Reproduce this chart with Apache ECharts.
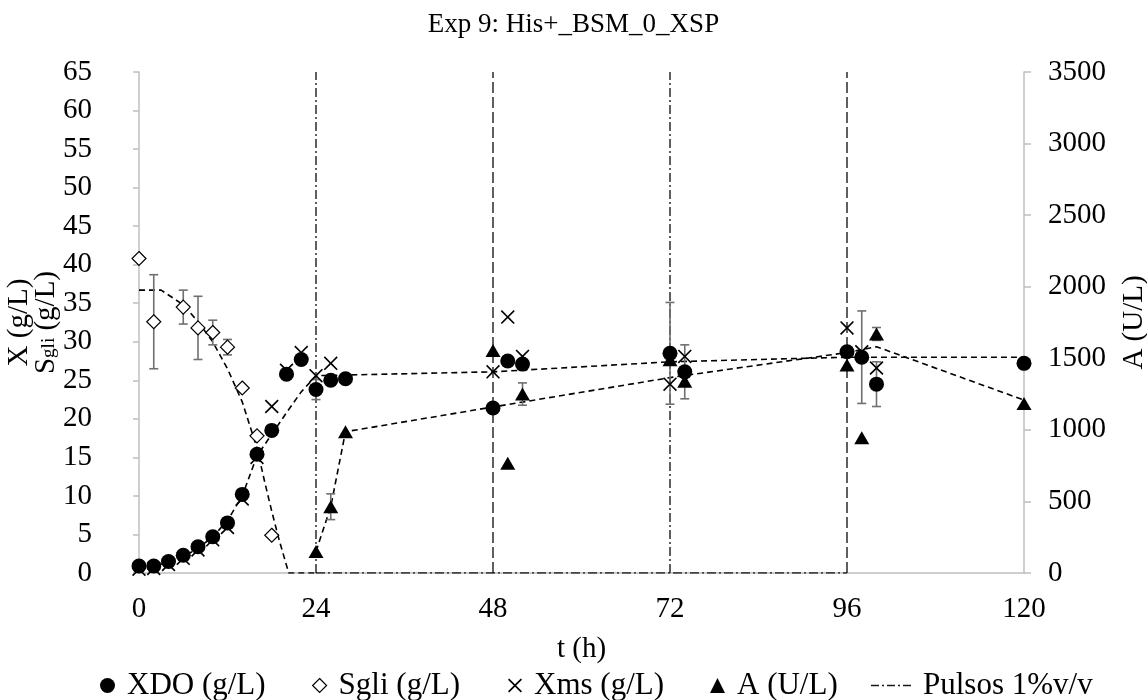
<!DOCTYPE html>
<html>
<head>
<meta charset="utf-8">
<script src="https://cdn.jsdelivr.net/npm/echarts@6/dist/echarts.min.js"></script>
<style>
  html, body { margin: 0; padding: 0; background: #ffffff; }
  #chart { width: 1147px; height: 700px; }
</style>
</head>
<body>
<div id="chart"></div>
<script>
// ---- measured data ----
// Biomass, dry weight (g/L)
const tXDO   = [0, 2, 4, 6, 8, 10, 12, 14, 16, 18, 20, 22, 24, 26, 28, 48, 50, 52, 72, 74, 96, 98, 100, 120];
const XDO    = [0.9, 0.9, 1.5, 2.3, 3.4, 4.7, 6.5, 10.2, 15.4, 18.5, 25.8, 27.7, 23.8, 25.0, 25.2, 21.4, 27.5, 27.1, 28.5, 26.1, 28.7, 28.0, 24.5, 27.2];
const XDOerr = [0, 0, 0, 0, 0, 0, 0, 0, 0, 0, 0, 0, 1.3, 0, 0, 0, 0, 0, 6.6, 3.5, 0, 6.0, 2.9, 0];

// Glycerol (g/L)
const tSgli   = [0, 2, 6, 8, 10, 12, 14, 16, 18];
const Sgli    = [40.8, 32.6, 34.5, 31.8, 31.2, 29.3, 24.0, 17.8, 4.9];
const SgliErr = [0, 6.1, 2.2, 4.1, 1.6, 1.0, 0, 0, 0];

// Biomass estimated online (g/L)
const tXms = [0, 2, 4, 6, 8, 10, 12, 14, 16, 18, 20, 22, 24, 26, 48, 50, 52, 72, 74, 96, 98, 100];
const Xms  = [0.5, 0.6, 1.1, 1.9, 3.0, 4.3, 5.9, 9.6, 15.0, 21.6, 26.3, 28.6, 25.6, 27.2, 26.1, 33.2, 28.1, 24.5, 28.1, 31.8, 28.7, 26.6];

// Enzyme activity (U/L)
const tA   = [24, 26, 28, 48, 50, 52, 72, 74, 96, 98, 100, 120];
const A    = [150, 463, 987, 1555, 766, 1250, 1490, 1340, 1453, 945, 1670, 1185];
const AErr = [0, 90, 0, 0, 0, 78, 0, 0, 0, 0, 45, 0];

// Model curves
const tXModel = [0, 2, 4, 6, 8, 10, 12, 14, 16, 18, 20, 22, 24, 48, 72, 96, 120];
const XModel  = [0.6, 0.9, 1.4, 2.1, 3.2, 4.7, 6.8, 10.0, 15.2, 18.0, 20.8, 23.5, 25.6, 26.1, 27.4, 28.0, 28.0];
const tSModel = [0, 3, 6, 8, 10, 12, 14, 16, 17, 18, 19, 20.3, 24];
const SModel  = [36.7, 36.7, 34.8, 32.6, 30.0, 26.5, 22.2, 16.2, 12.0, 8.0, 4.3, 0, 0];
const tAModel = [24, 26, 28, 48, 72, 96, 100, 120];
const AModel  = [150, 463, 987, 1160, 1365, 1540, 1581, 1208];

// Feeding pulses (h)
const tPulse = [24, 48, 72, 96];

// Axes
const xTicks = [0, 24, 48, 72, 96, 120];
const yLeftMax = 65, yLeftStep = 5;
const yRightMax = 3500, yRightStep = 500;

// ---- drawing ----
const FONT = '"Liberation Serif", "Times New Roman", serif';
const AXIS_GRAY = '#bfbfbf';
const INK = '#1a1a1a';
const zip = (ts, vs) => ts.map((t, i) => [t, vs[i]]);

function errorBars(ts, vs, es, yAxisIndex) {
  const data = [];
  ts.forEach((t, i) => { if (es[i] > 0) data.push([t, vs[i] - es[i], vs[i] + es[i]]); });
  return {
    type: 'custom', yAxisIndex: yAxisIndex, silent: true, z: 3,
    data: data,
    encode: { x: 0, y: [1, 2] },
    renderItem: function (params, api) {
      const lo = api.coord([api.value(0), api.value(1)]);
      const hi = api.coord([api.value(0), api.value(2)]);
      const w = 4.5;
      const style = { stroke: '#707070', lineWidth: 1.6, fill: null };
      return {
        type: 'group',
        children: [
          { type: 'line', shape: { x1: lo[0], y1: lo[1], x2: hi[0], y2: hi[1] }, style: style },
          { type: 'line', shape: { x1: lo[0] - w, y1: lo[1], x2: lo[0] + w, y2: lo[1] }, style: style },
          { type: 'line', shape: { x1: hi[0] - w, y1: hi[1], x2: hi[0] + w, y2: hi[1] }, style: style }
        ]
      };
    }
  };
}

function modelLine(ts, vs, yAxisIndex) {
  return {
    type: 'line', yAxisIndex: yAxisIndex, silent: true, z: 2,
    symbol: 'none', data: zip(ts, vs),
    lineStyle: { color: '#000', width: 1.6, type: [6, 4] }
  };
}

// Pulse markers: vertical lines at each feeding time plus the base segment
const PULSE_NAME = 'Pulsos 1%v/v';
const DASH_DOT = [9, 3, 2, 3];
const LONG_DASH = [11, 4];
const pulseSeries = tPulse.map((t, i) => ({
  name: PULSE_NAME, type: 'line', yAxisIndex: 0, silent: true, z: 1,
  symbol: 'none', data: [[t, 0], [t, yLeftMax]],
  itemStyle: { color: INK },
  lineStyle: { color: INK, width: 1.4, type: i % 2 === 0 ? DASH_DOT : LONG_DASH }
}));
pulseSeries.push({
  name: PULSE_NAME, type: 'line', yAxisIndex: 0, silent: true, z: 1,
  symbol: 'none', data: [[tPulse[0], 0], [tPulse[tPulse.length - 1], 0]],
  itemStyle: { color: INK },
  lineStyle: { color: INK, width: 1.4, type: DASH_DOT }
});

// Legend glyph for the pulse lines (dash-dot stroke inside a 40x12 box)
const PULSE_ICON = 'path://M0,5.3h8v1.4h-8z M11,5.3h2v1.4h-2z M16,5.3h8v1.4h-8z M27,5.3h2v1.4h-2z M32,5.3h8v1.4h-8z ' +
                   'M0,0h0.01v0.01h-0.01z M39.99,11.99h0.01v0.01h-0.01z';
const CROSS = 'path://M0,1 L1,0 L6,5 L11,0 L12,1 L7,6 L12,11 L11,12 L6,7 L1,12 L0,11 L5,6 Z';

const labelStyle = { fontFamily: FONT, fontSize: 29, color: '#000' };
const legendText = { fontFamily: FONT, fontSize: 31, color: '#000', padding: [0, 0, 0, 7] };

// One legend block per entry so each sits at its own spot on the bottom row
function legendAt(left, item, w, h) {
  return { data: [item], left: left, top: 665, itemWidth: w || 15, itemHeight: h || 15, textStyle: legendText };
}

const option = {
  animation: false,
  backgroundColor: '#ffffff',
  title: {
    text: 'Exp 9: His+_BSM_0_XSP',
    left: 'center', top: 6,
    textStyle: { fontFamily: FONT, fontSize: 27, fontWeight: 'normal', color: '#000' }
  },
  grid: { left: 139, right: 123, top: 72, bottom: 127, outerBoundsMode: 'none' },
  legend: [
    legendAt(95, 'XDO (g/L)'),
    legendAt(307, { name: 'Sgli (g/L)', itemStyle: { borderWidth: 1.2 } }, 14, 14),
    legendAt(503, 'Xms (g/L)', 14, 14),
    legendAt(705, 'A (U/L)'),
    legendAt(866, { name: PULSE_NAME, icon: PULSE_ICON, itemStyle: { color: INK } }, 40, 12)
  ],
  xAxis: {
    type: 'value', min: xTicks[0], max: xTicks[xTicks.length - 1], interval: 24,
    name: 't (h)', nameLocation: 'middle', nameGap: 62, nameMoveOverlap: false,
    nameTextStyle: labelStyle,
    axisLine: { show: true, lineStyle: { color: AXIS_GRAY, width: 1.5 } },
    axisTick: { show: false },
    axisLabel: Object.assign({ margin: 22 }, labelStyle),
    splitLine: { show: false }
  },
  yAxis: [
    {
      type: 'value', position: 'left', min: 0, max: yLeftMax, interval: yLeftStep,
      name: '{a|X (g/L)}\n{a|S}{sub|gli}{a| (g/L)}',
      nameLocation: 'middle', nameRotate: 90, nameGap: 80, nameMoveOverlap: false,
      nameTextStyle: {
        fontFamily: FONT, fontSize: 29, color: '#000',
        rich: {
          a: { fontFamily: FONT, fontSize: 29, color: '#000', lineHeight: 27, verticalAlign: 'top' },
          sub: { fontFamily: FONT, fontSize: 19, color: '#000', lineHeight: 18, verticalAlign: 'bottom', padding: [12, 0, 0, 0] }
        }
      },
      axisLine: { show: true, lineStyle: { color: AXIS_GRAY, width: 1.5 } },
      axisTick: { show: true, inside: false, length: 6, lineStyle: { color: AXIS_GRAY, width: 1.5 } },
      axisLabel: Object.assign({ margin: 47 }, labelStyle),
      splitLine: { show: false }
    },
    {
      type: 'value', position: 'right', min: 0, max: yRightMax, interval: yRightStep,
      name: 'A (U/L)', nameLocation: 'middle', nameRotate: 90, nameGap: 96, nameMoveOverlap: false,
      nameTextStyle: labelStyle,
      axisLine: { show: true, lineStyle: { color: AXIS_GRAY, width: 1.5 } },
      axisTick: { show: true, inside: false, length: 7, lineStyle: { color: AXIS_GRAY, width: 1.5 } },
      axisLabel: Object.assign({ margin: 24, formatter: v => String(v) }, labelStyle),
      splitLine: { show: false }
    }
  ],
  series: [
    ...pulseSeries,
    modelLine(tSModel, SModel, 0),
    modelLine(tXModel, XModel, 0),
    modelLine(tAModel, AModel, 1),
    errorBars(tSgli, Sgli, SgliErr, 0),
    errorBars(tXDO, XDO, XDOerr, 0),
    errorBars(tA, A, AErr, 1),
    {
      name: 'Sgli (g/L)', type: 'scatter', yAxisIndex: 0, z: 4,
      symbol: 'diamond', symbolSize: 14, data: zip(tSgli, Sgli),
      itemStyle: { color: '#ffffff', borderColor: '#000', borderWidth: 1.2, opacity: 1 }
    },
    {
      name: 'A (U/L)', type: 'scatter', yAxisIndex: 1, z: 4,
      symbol: 'triangle', symbolSize: [15, 13], data: zip(tA, A),
      itemStyle: { color: '#000', opacity: 1 }
    },
    {
      name: 'Xms (g/L)', type: 'scatter', yAxisIndex: 0, z: 4,
      symbol: CROSS, symbolSize: 14, data: zip(tXms, Xms),
      itemStyle: { color: '#000', opacity: 1 }
    },
    {
      name: 'XDO (g/L)', type: 'scatter', yAxisIndex: 0, z: 5,
      symbol: 'circle', symbolSize: 15, data: zip(tXDO, XDO),
      itemStyle: { color: '#000', opacity: 1 }
    }
  ]
};

const chart = echarts.init(document.getElementById('chart'), null, { renderer: 'canvas' });
chart.setOption(option);
</script>
</body>
</html>
